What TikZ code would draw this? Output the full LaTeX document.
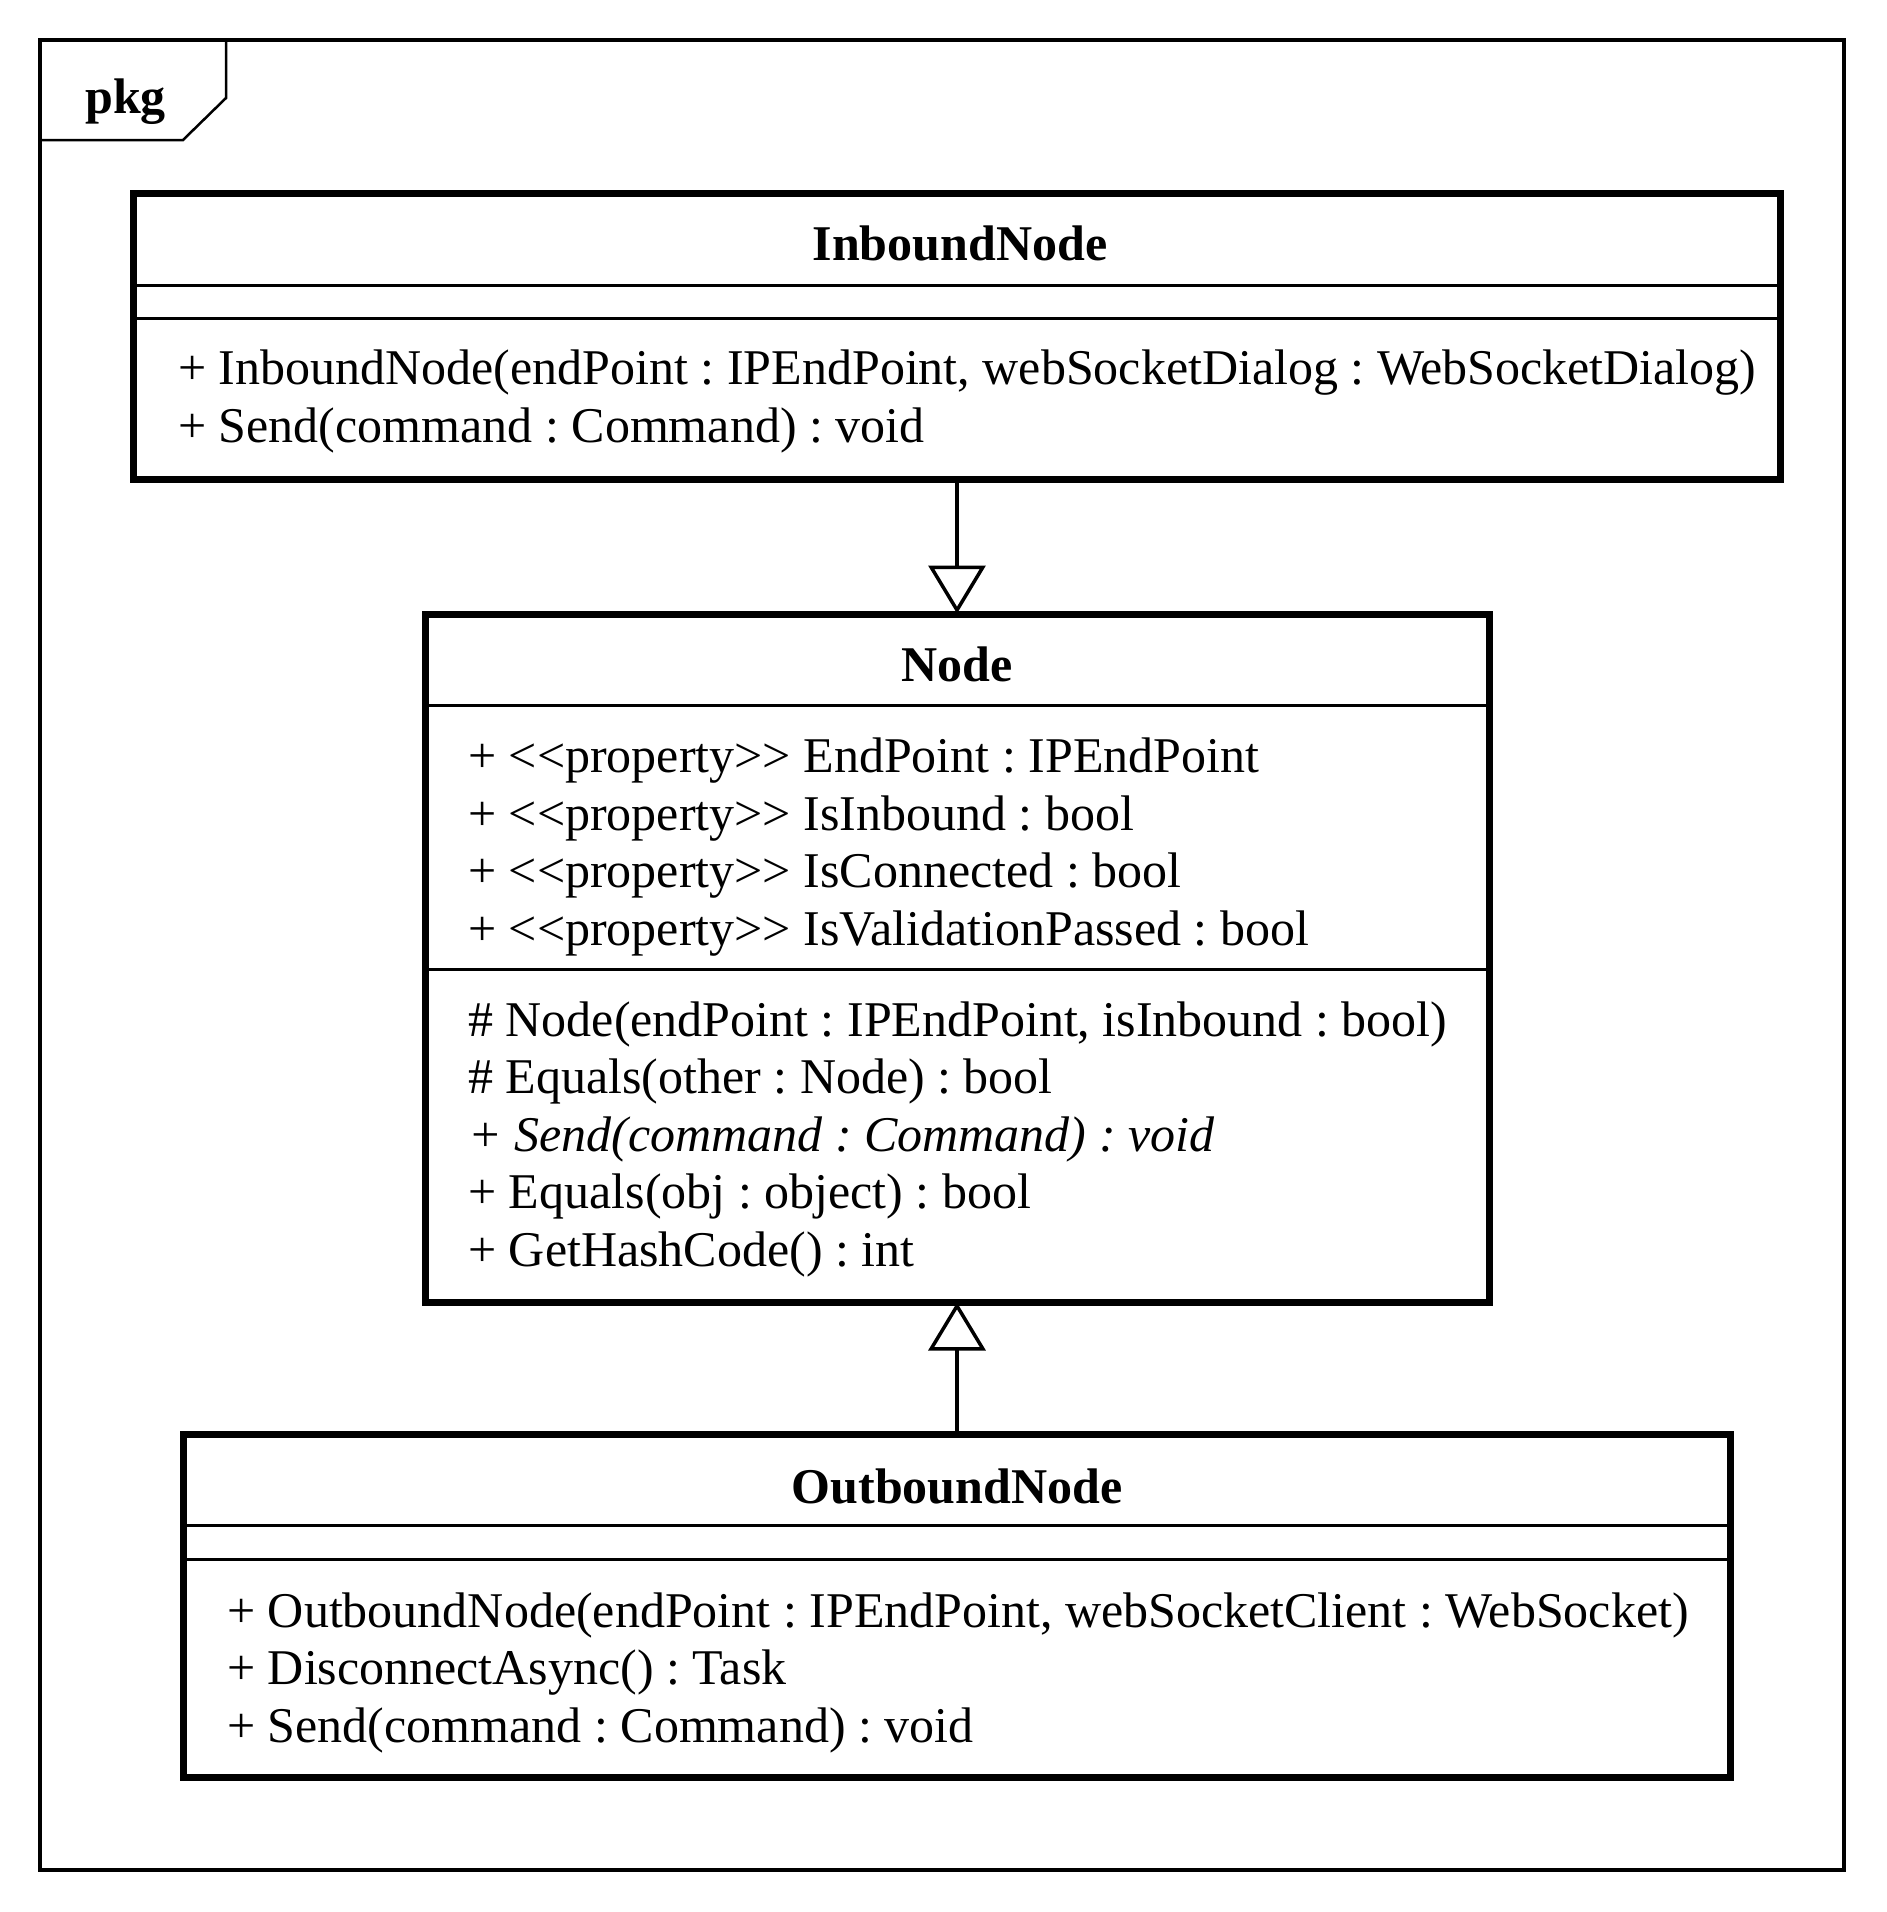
\documentclass[tikz,border=0pt]{standalone}
\usepackage{fontspec}
\setmainfont{Liberation Serif}[Ligatures=TeXOff]
\frenchspacing
\usetikzlibrary{arrows.meta}
\tikzset{
    classbox/.style={draw, line width=7pt, inner sep=0pt},
    sep/.style={line width=3pt},
    title/.style={anchor=base, inner sep=0pt, font=\fontsize{50}{58}\selectfont\bfseries},
    member/.style={anchor=base west, inner sep=0pt, font=\fontsize{50}{58}\selectfont},
    inherit/.style={line width=3.5pt, shorten >=-3pt, -{Triangle[open, length=48pt, width=57pt, line width=3.5pt]}},
}
\begin{document}
\begin{tikzpicture}[x=1pt, y=-1pt]
    \useasboundingbox (0,0) rectangle (1887,1912);
    % package frame
    \draw[line width=3.5pt] (40,40) rectangle (1844,1870);
    \draw[line width=2.5pt] (226,40) -- (226,98) -- (183,140) -- (40,140);
    \node[anchor=base west, inner sep=0pt, font=\fontsize{50}{58}\selectfont\bfseries] (pkg) at (85,113) {pkg};
    % class boxes
    \node[classbox, minimum width=1647pt, minimum height=286pt] (inbound) at (957,336) {};
    \node[classbox, minimum width=1064pt, minimum height=688pt] (basenode) at (957,958) {};
    \node[classbox, minimum width=1547pt, minimum height=343pt] (outbound) at (957,1605.5) {};
    % compartments
    \draw[sep] (134,285) -- (1781,285);
    \draw[sep] (134,318) -- (1781,318);
    \draw[sep] (425,705) -- (1489,705);
    \draw[sep] (425,969) -- (1489,969);
    \draw[sep] (184,1525) -- (1731,1525);
    \draw[sep] (184,1559) -- (1731,1559);
    % InboundNode
    \node[title] (intitle) at (960,260) {InboundNode};
    \node[member] (in1) at (178,384) {+ InboundNode(endPoint : IPEndPoint, webSocketDialog : WebSocketDialog)};
    \node[member] (in2) at (178,442) {+ Send(command : Command) : void};
    % Node
    \node[title] (basetitle) at (957,681) {Node};
    \node[member] (at1) at (468,772) {+ <<property>> EndPoint : IPEndPoint};
    \node[member] (at2) at (468,830) {+ <<property>> IsInbound : bool};
    \node[member] (at3) at (468,887) {+ <<property>> IsConnected : bool};
    \node[member] (at4) at (468,945) {+ <<property>> IsValidationPassed : bool};
    \node[member] (op1) at (468,1036) {\# Node(endPoint : IPEndPoint, isInbound : bool)};
    \node[member] (op2) at (468,1093) {\# Equals(other : Node) : bool};
    \node[member] (op3) at (468,1151) {\itshape + Send(command : Command) : void};
    \node[member] (op4) at (468,1208) {+ Equals(obj : object) : bool};
    \node[member] (op5) at (468,1266) {+ GetHashCode() : int};
    % OutboundNode
    \node[title] (outtitle) at (957,1503) {OutboundNode};
    \node[member] (out1) at (227,1627) {+ OutboundNode(endPoint : IPEndPoint, webSocketClient : WebSocket)};
    \node[member] (out2) at (227,1684) {+ DisconnectAsync() : Task};
    \node[member] (out3) at (227,1742) {+ Send(command : Command) : void};
    % generalisation
    \draw[inherit] (inbound.south) -- (basenode.north);
    \draw[inherit] (outbound.north) -- (basenode.south);
\end{tikzpicture}
\end{document}
